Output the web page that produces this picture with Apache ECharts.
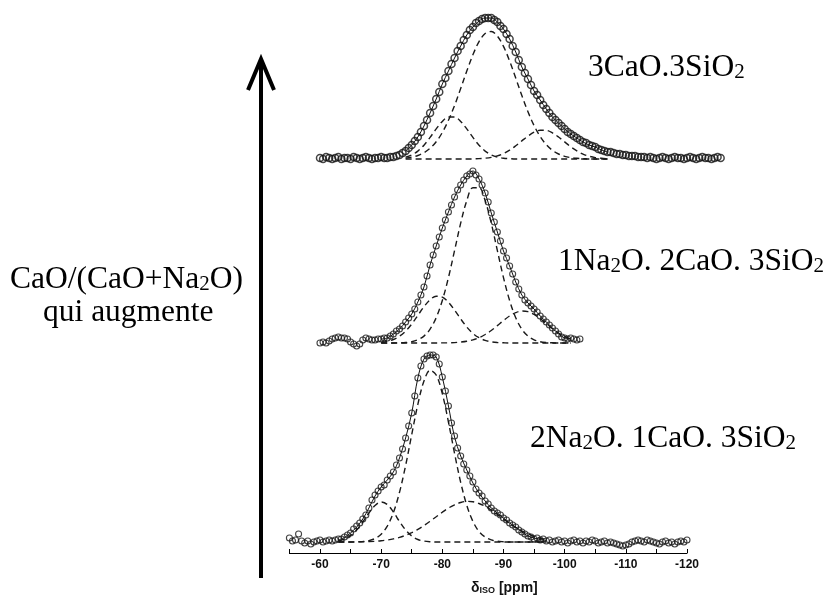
<!DOCTYPE html>
<html><head><meta charset="utf-8">
<script src="https://cdn.jsdelivr.net/npm/echarts@6/dist/echarts.min.js"></script>
<style>html,body{margin:0;padding:0;background:#fff}#c{width:829px;height:597px}</style>
</head><body><div id="c"></div>
<script>
// ---------- tick labels (ppm) ----------
const tickLabels = [-60, -70, -80, -90, -100, -110, -120];

// ---------- bottom spectrum: 2Na2O.1CaO.3SiO2 ----------
// experimental points, from -55 ppm, every 0.5 ppm
const bottomExpStart = -55, expStep = 0.5;
const bottomExp = [4,1,2,8,1,-1,1,-2,0,1, 2,0,1,2,1,2,3,3,5,7,
  9,13,16,19,23,27,34,42,47,51, 55,57,62,66,70,77,84,93,104,116,
  129,146,164,176,183,186,187,187,185,178, 165,151,136,119,106,94,86,78,72,66,
  60,53,49,46,41,38,34,31,29,27, 24,22,19,17,15,12,10,8,6,5,
  3,4,2,3,1,2,0,1,2,0, 1,-1,1,2,0,1,-1,1,0,2,
  1,-1,0,1,-1,0,-1,-2,-3,-4, -3,-2,0,1,2,1,0,2,1,0,
  -1,-2,0,1,-1,0,-2,0,1,0, 2];
// fit and gaussian components, from -63 ppm, every 1 ppm
const bottomCompStart = -63, compStep = 1;
const bottomFit = [2,4.5,9,15,23,34,46,55,62,70,84,104,129,164,183,187,185,165,136,105,86,72,59,49,41,34,29,24,19,15,10,6,4,2.5,1.5];
const bottomMain = [0,0,0,0.2,0.5,1.4,3.5,7.8,15.9,29.4,49.7,76.5,107.5,137.7,161,171.7,167,148.3,120,88.6,59.7,36.7,20.6,10.5,4.9,2.1,0.8,0.3,0,0,0,0,0,0,0];
const bottomLeft = [1,3,6.5,12,20,29,36.5,40,37.5,30,20.5,12,6,2.5,1,0.3,0,0,0,0,0,0,0,0,0,0,0,0,0,0,0,0,0,0,0];
const bottomRight = [0,0,0,0.1,0.2,0.4,0.7,1.2,2.0,3.1,4.6,6.7,9.4,12.6,16.5,20.8,25.3,29.8,33.9,37.2,39.5,40.6,40.2,38.5,35.7,31.9,27.6,23.0,18.6,14.5,10.9,8.0,5.6,3.8,2.5];

// ---------- middle spectrum: 1Na2O.2CaO.3SiO2 ----------
const midExpStart = -60;
const midExp = [0,1,0,2,4,5,6,5,5,4, 1,-1,-3,-1,3,5,4,3,3,4,
  4,5,5,7,9,12,14,17,21,25, 29,34,41,48,56,67,78,88,97,106,
  115,123,131,138,146,153,158,163,167,169, 172,168,164,158,150,141,130,121,111,102,
  92,85,77,69,61,54,48,43,40,37, 34,31,27,24,21,18,15,12,9,6,
  5,4,5,4,3,4];
const midCompStart = -70;
const midFit = [4,5,9,14,21,29,41,56,78,97,115,131,146,158,167,172,164,150,130,111,92,77,61,48,40,34,27,21,15,9,5,4];
const midMain = [0,0,0,0.2,0.5,1.3,3.2,6.9,13.8,25.3,42.5,65.4,92.4,119.8,142.4,155.3,155.3,142.4,119.8,92.4,65.4,42.5,25.3,13.8,6.9,3.2,1.3,0.5,0.2,0,0,0];
const midLeft = [0.7,1.6,3.5,6.8,11.9,19.0,27.6,36.3,43.3,46.8,45.9,40.8,32.9,24.1,16.0,9.6,5.3,2.6,1.2,0.5,0.2,0,0,0,0,0,0,0,0,0,0,0];
const midRight = [0,0,0,0,0,0,0,0,0,0,0.1,0.2,0.4,0.9,1.7,3.1,5.3,8.5,12.5,17.4,22.4,27.1,30.4,32,31.3,28.6,24.4,19.4,14.4,10.0,6.5,3.9];

// ---------- top spectrum: 3CaO.3SiO2 ----------
const topExpStart = -60;
const topExp = [1,0,2,1,0,1,2,0,1,1,0,2,1,0,1,2,1,0,1,1,2,1,1,2,
  2,3,4,6,8,11,14,18,22,27, 33,39,46,53,60,67,75,81,88,95,
  101,108,113,119,124,129,132,136,138,140, 141,141,141,139,137,133,130,125,120,113,
  107,99,92,86,80,74,68,64,59,54, 50,46,42,39,36,33,30,27,25,23,
  21,19,17,16,14,13,12,10,9,8, 7,7,6,5,5,4,4,3,3,3,
  2,2,2,1,2,1,0,1,2,1, 0,1,2,1,1,0,1,2,1,0,
  1,2,1,1,0,1,2,1];
const topCompStart = -74;
const topFit = [8,14,22,33,46,60,75,88,101,113,124,132,138,141,141,137,130,120,107,92,80,68,59,50,42,36,30,25,21,17,14,12,9,7];
const topMain = [0.9,1.9,3.5,6.3,10.7,17.3,26.5,38.7,53.5,70.4,87.9,104.2,117.4,125.5,127.5,122.9,112.6,98.0,80.9,63.5,47.3,33.4,22.4,14.3,8.7,5.0,2.7,1.4,0.7,0.3,0,0,0,0];
const topLeft = [1.9,4.1,7.9,13.8,21.6,30.1,37.6,42.0,42.0,37.6,30.1,21.6,13.8,7.9,4.1,1.9,0.8,0.3,0,0,0,0,0,0,0,0,0,0,0,0,0,0,0,0];
const topRight = [0,0,0,0,0,0,0,0,0,0,0,0.1,0.4,0.8,1.6,3.1,5.4,8.8,13.2,18.1,22.9,26.8,28.8,28.6,26.1,22.0,17.1,12.2,8.1,4.9,2.8,1.4,0.7,0.3];

// ---------- text labels (alternating normal / subscript parts) ----------
const topLabel = ['3CaO.3SiO', '2'];
const midLabel = ['1Na', '2', 'O. 2CaO. 3SiO', '2'];
const bottomLabel = ['2Na', '2', 'O. 1CaO. 3SiO', '2'];
const arrowLabel1 = ['CaO/(CaO+Na', '2', 'O)'];
const arrowLabel2 = ['qui augmente'];

// ---------- build ----------
function pairs(start, step, arr) { return arr.map((v, i) => [start - i * step, v]); }
function richText(parts) { return parts.map((p, i) => '{' + (i % 2 ? 's' : 'n') + '|' + p + '}').join(''); }
const dashStyle = { color: '#1a1a1a', width: 1.4, type: [6, 4] };
function comp(idx, start, arr) {
  return { type: 'line', xAxisIndex: idx, yAxisIndex: idx, data: pairs(start, compStep, arr),
    showSymbol: false, smooth: 0.35, lineStyle: dashStyle, clip: false, z: 2, silent: true };
}
function fit(idx, start, arr) {
  return { type: 'line', xAxisIndex: idx, yAxisIndex: idx, data: pairs(start, compStep, arr),
    showSymbol: false, smooth: 0.35, lineStyle: { color: '#111', width: 1 }, clip: false, z: 3, silent: true };
}
function exp(idx, start, arr, size, bw) {
  return { type: 'scatter', xAxisIndex: idx, yAxisIndex: idx, data: pairs(start, expStep, arr),
    symbol: 'circle', symbolSize: size, clip: false, z: 4, silent: true,
    itemStyle: { color: 'rgba(255,255,255,0)', borderColor: '#151515', borderWidth: bw } };
}

const serif = 'Liberation Serif, Times New Roman, serif';
const richSerif = {
  n: { fontFamily: serif, fontSize: 31.5, lineHeight: 31, color: '#000' },
  s: { fontFamily: serif, fontSize: 21, lineHeight: 15, verticalAlign: 'bottom', color: '#000' }
};
function label(parts, left, top) {
  return { text: richText(parts), left: left, top: top, padding: 0, itemGap: 0,
    textStyle: { fontWeight: 'normal', rich: richSerif } };
}

const chart = echarts.init(document.getElementById('c'), null, { renderer: 'canvas' });
const hiddenY = (min, max, gi) => ({ type: 'value', gridIndex: gi, min: min, max: max, show: false });

chart.setOption({
  animation: false,
  backgroundColor: '#fff',
  title: [
    label(topLabel, 588, 52),
    label(midLabel, 558, 246),
    label(bottomLabel, 530, 423),
    label(arrowLabel1, 10, 264),
    label(arrowLabel2, 43, 297),
    { text: '{d|δ}{s|ISO}{p| [ppm]}', left: 471, top: 582, padding: 0,
      textStyle: { rich: {
        d: { fontFamily: 'Liberation Sans', fontWeight: 'bold', fontSize: 14, lineHeight: 13, color: '#111' },
        s: { fontFamily: 'Liberation Sans', fontWeight: 'bold', fontSize: 9, lineHeight: 4, verticalAlign: 'bottom', color: '#111' },
        p: { fontFamily: 'Liberation Sans', fontWeight: 'bold', fontSize: 14, lineHeight: 13, color: '#111' }
      } } }
  ],
  grid: [
    { left: 289.4, width: 397.6, top: 342, height: 211 },
    { left: 289.4, width: 397.6, top: 160, height: 192 },
    { left: 289.4, width: 434.3, top: 5, height: 160 }
  ],
  xAxis: [
    { type: 'value', gridIndex: 0, inverse: true, min: -120, max: -55, interval: 5,
      axisLine: { show: true, onZero: false, lineStyle: { color: '#000', width: 1 } },
      axisTick: { show: true, inside: true, length: 4, lineStyle: { color: '#000', width: 1 } },
      splitLine: { show: false },
      axisLabel: { margin: 6, fontFamily: 'Liberation Sans', fontWeight: 'bold', fontSize: 12, color: '#111',
        formatter: v => tickLabels.indexOf(v) >= 0 ? String(v) : '' } },
    { type: 'value', gridIndex: 1, inverse: true, min: -120, max: -55, show: false },
    { type: 'value', gridIndex: 2, inverse: true, min: -126, max: -55, show: false }
  ],
  yAxis: [ hiddenY(-11, 200, 0), hiddenY(-9, 183, 1), hiddenY(-6, 154, 2) ],
  series: [
    comp(0, bottomCompStart, bottomMain), comp(0, bottomCompStart, bottomLeft), comp(0, bottomCompStart, bottomRight),
    fit(0, bottomCompStart, bottomFit), exp(0, bottomExpStart, bottomExp, 6, 1.1),
    comp(1, midCompStart, midMain), comp(1, midCompStart, midLeft), comp(1, midCompStart, midRight),
    fit(1, midCompStart, midFit), exp(1, midExpStart, midExp, 6, 1.1),
    comp(2, topCompStart, topMain), comp(2, topCompStart, topLeft), comp(2, topCompStart, topRight),
    fit(2, topCompStart, topFit), exp(2, topExpStart, topExp, 7, 1.5)
  ],
  graphic: [
    { type: 'line', shape: { x1: 261, y1: 578, x2: 261, y2: 62 }, style: { stroke: '#000', lineWidth: 4 } },
    { type: 'polyline', shape: { points: [[248, 90], [261, 59], [274, 90]] }, style: { stroke: '#000', lineWidth: 4, fill: null } }
  ]
});
</script></body></html>
